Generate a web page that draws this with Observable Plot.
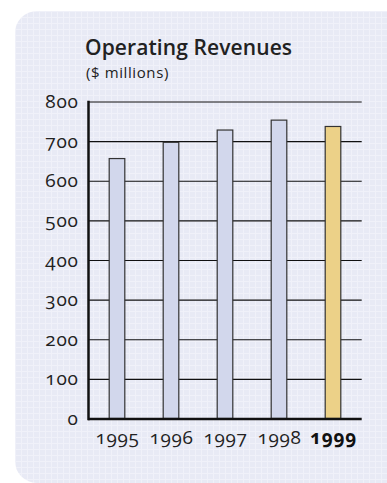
<!DOCTYPE html>
<html>
<head>
<meta charset="utf-8">
<script src="https://cdn.jsdelivr.net/npm/d3@7"></script>
<script src="https://cdn.jsdelivr.net/npm/@observablehq/plot@0.6"></script>
<style>
  html, body { margin: 0; padding: 0; background: #ffffff; width: 387px; height: 483px; overflow: hidden; }
  #panel {
    position: absolute; left: 15px; top: 11px; width: 420px; height: 472px;
    border-radius: 22px;
    background-color: #e8eaf5;
    background-image:
      linear-gradient(to right, #f0f1f9 1.5px, transparent 1.5px),
      linear-gradient(to bottom, #f0f1f9 1.5px, transparent 1.5px);
    background-size: 6px 6px;
  }
  .t { position: absolute; font-family: "Open Sans", sans-serif; color: #222; white-space: nowrap; line-height: 1; }
  #title { left: 85px; top: 37px; font-size: 21px; font-weight: 600; letter-spacing: 0.1px; }
  #sub { left: 86px; top: 65px; font-size: 15px; font-weight: 400; letter-spacing: 0.6px; }
  #chart { position: absolute; left: 0; top: 0; }
  #chart svg text { letter-spacing: 0.7px; }
</style>
</head>
<body>
<div id="panel"></div>
<div class="t" id="title">Operating Revenues</div>
<div class="t" id="sub">($ millions)</div>
<div id="chart"></div>
<script>
const years = ["1995", "1996", "1997", "1998", "1999"];
const revenues = [656, 697, 728, 753, 737];
const highlightYear = "1999";
const yTicks = [0, 100, 200, 300, 400, 500, 600, 700, 800];

const data = years.map((y, i) => ({year: y, value: revenues[i], hi: y === highlightYear}));

const chart = Plot.plot({
  width: 387,
  height: 483,
  marginTop: 101.5,
  marginBottom: 64.5,
  marginLeft: 88,
  marginRight: 25.3,
  style: {background: "transparent", fontFamily: "'Open Sans', sans-serif", fontSize: "19px", color: "#222"},
  x: {domain: years, padding: 0, axis: null},
  y: {domain: [0, 800], ticks: yTicks, label: null},
  marks: [
    Plot.ruleY(yTicks.filter(d => d > 0), {stroke: "#111", strokeWidth: 1.2}),
    Plot.barY(data, {
      x: "year", y: "value",
      fill: d => d.hi ? "#ecd188" : "#d2d7ec",
      stroke: "#333", strokeWidth: 1.2,
      insetLeft: 19.2, insetRight: 19.2
    }),
    Plot.ruleY([0], {stroke: "#111", strokeWidth: 2.5}),
    Plot.frame({anchor: "left", stroke: "#111", strokeWidth: 2.5}),
    Plot.axisY({ticks: yTicks, tickSize: 0, tickPadding: 10, fontSize: 19, fontVariant: "oldstyle-nums", textAnchor: "end", fill: "#222", label: null}),
    Plot.text(data.filter(d => !d.hi), {x: "year", text: "year", frameAnchor: "bottom", lineAnchor: "bottom", dy: 25, fontSize: 19, fontVariant: "oldstyle-nums", fill: "#222"}),
    Plot.text(data.filter(d => d.hi), {x: "year", text: "year", frameAnchor: "bottom", lineAnchor: "bottom", dy: 25, fontSize: 19, fontWeight: "bold", fontVariant: "oldstyle-nums", fill: "#111"})
  ]
});
document.getElementById("chart").appendChild(chart);
</script>
</body>
</html>
